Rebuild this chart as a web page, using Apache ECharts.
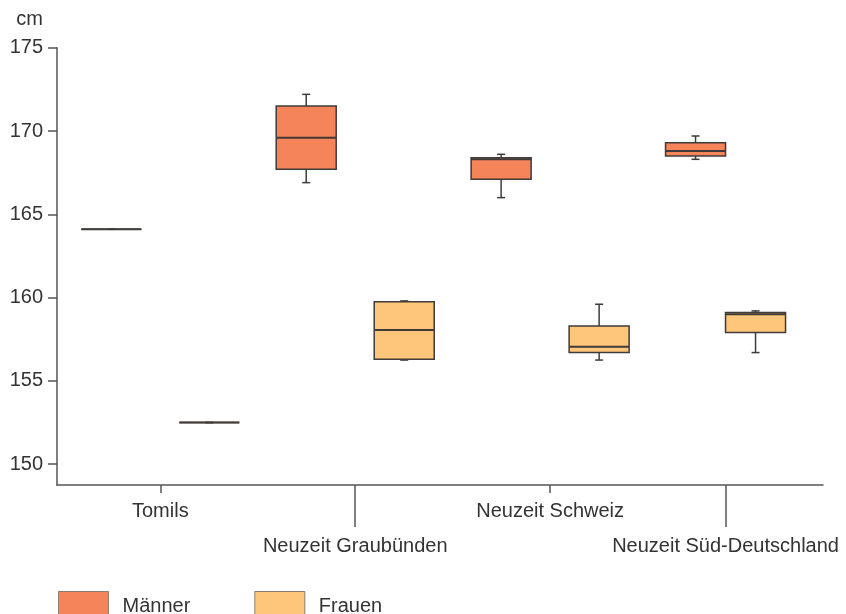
<!DOCTYPE html>
<html>
<head>
<meta charset="utf-8">
<script src="https://cdn.jsdelivr.net/npm/echarts@6/dist/echarts.min.js"></script>
<style>
  html, body { margin: 0; padding: 0; background: #ffffff; }
  #chart { width: 846px; height: 614px; }
</style>
</head>
<body>
<div id="chart"></div>
<script>
// Body height (cm) by group: five-number summaries [min, Q1, median, Q3, max]
const groups = ['Tomils', 'Neuzeit Graubünden', 'Neuzeit Schweiz', 'Neuzeit Süd-Deutschland'];
const maenner = [
  [164.1, 164.1, 164.1, 164.1, 164.1],
  [166.9, 167.7, 169.6, 171.5, 172.2],
  [166.0, 167.1, 168.3, 168.4, 168.6],
  [168.3, 168.5, 168.8, 169.3, 169.7]
];
const frauen = [
  [152.5, 152.5, 152.5, 152.5, 152.5],
  [156.25, 156.3, 158.05, 159.75, 159.8],
  [156.25, 156.7, 157.05, 158.3, 159.6],
  [156.7, 157.9, 159.0, 159.1, 159.2]
];
const yTicks = [150, 155, 160, 165, 170, 175];

// Layout: group centres on the x axis and pixel offset of each pair of boxes
const groupPos = [0, 1, 2, 2.9];
const pairOffset = [49, 49, 49, 30];
const boxWidth = 60;
const capWidth = 8;

const textColor = '#333333';
const axisColor = '#555555';
const edge = '#3f3b38';
const fontFamily = '"Liberation Sans", Arial, sans-serif';

function nameAt(v) {
  let best = 0;
  groupPos.forEach((p, i) => { if (Math.abs(p - v) < Math.abs(groupPos[best] - v)) best = i; });
  return groups[best];
}

function boxRenderer(side) {
  return function (params, api) {
    const i = params.dataIndex;
    const cx = api.coord([api.value(0), 0])[0] + side * pairOffset[i];
    const y = k => api.coord([0, api.value(k)])[1];
    const yMin = y(1), yQ1 = y(2), yMed = y(3), yQ3 = y(4), yMax = y(5);
    const half = boxWidth / 2, cap = capWidth / 2;
    const line = (x1, y1, x2, y2, w) => ({
      type: 'line', shape: { x1, y1, x2, y2 }, style: { stroke: edge, lineWidth: w }
    });
    return {
      type: 'group',
      children: [
        line(cx, yMax, cx, yQ3, 1.5),
        line(cx - cap, yMax, cx + cap, yMax, 1.5),
        line(cx, yQ1, cx, yMin, 1.5),
        line(cx - cap, yMin, cx + cap, yMin, 1.5),
        {
          type: 'rect',
          shape: { x: cx - half, y: yQ3, width: boxWidth, height: yQ1 - yQ3 },
          style: { fill: api.visual('color'), stroke: edge, lineWidth: 1.5 }
        },
        line(cx - half, yMed, cx + half, yMed, 2)
      ]
    };
  };
}

const chart = echarts.init(document.getElementById('chart'), null, { renderer: 'canvas' });

const labelStyle = { fontSize: 20, color: textColor, fontFamily: fontFamily };
const rowA = [groupPos[0], groupPos[2]];
const rowB = [groupPos[1], groupPos[3]];

chart.setOption({
  animation: false,
  backgroundColor: '#ffffff',
  textStyle: { fontFamily: fontFamily },
  grid: { left: 57, right: 23, top: 47.7, bottom: 129, containLabel: false },
  legend: {
    left: 58, top: 591, padding: 0,
    icon: 'rect', itemWidth: 50, itemHeight: 30, itemGap: 64,
    itemStyle: { borderColor: '#8c7c6c', borderWidth: 1 },
    textStyle: { fontSize: 20, color: textColor, fontFamily: fontFamily, padding: [0, 0, 0, 9] },
    data: ['Männer', 'Frauen']
  },
  xAxis: [
    {
      type: 'value', min: -0.53, max: 3.4, position: 'bottom',
      axisLine: { show: true, onZero: false, lineStyle: { color: axisColor, width: 1.5 } },
      splitLine: { show: false },
      axisTick: { show: true, customValues: rowA, length: 8, lineStyle: { color: axisColor, width: 1.5 } },
      axisLabel: Object.assign({ customValues: rowA, margin: 16, formatter: nameAt }, labelStyle)
    },
    {
      type: 'value', min: -0.53, max: 3.4, position: 'bottom',
      axisLine: { show: false, onZero: false },
      splitLine: { show: false },
      axisTick: { show: true, customValues: rowB, length: 42, lineStyle: { color: axisColor, width: 1.5 } },
      axisLabel: Object.assign({ customValues: rowB, margin: 51, formatter: nameAt }, labelStyle)
    }
  ],
  yAxis: {
    type: 'value', min: 148.75, max: 175,
    name: 'cm', nameLocation: 'end', nameGap: 18,
    nameTextStyle: { fontSize: 20, color: textColor, fontFamily: fontFamily, align: 'right', padding: [0, 14, 0, 0] },
    axisLine: { show: true, onZero: false, lineStyle: { color: axisColor, width: 1.5 } },
    splitLine: { show: false },
    axisTick: { show: true, customValues: yTicks, length: 9, lineStyle: { color: axisColor, width: 1.5 } },
    axisLabel: Object.assign({ customValues: yTicks, margin: 14 }, labelStyle)
  },
  series: [
    {
      name: 'Männer', type: 'custom', xAxisIndex: 0, yAxisIndex: 0,
      itemStyle: { color: '#F6845B' },
      encode: { x: 0, y: [1, 2, 3, 4, 5] },
      renderItem: boxRenderer(-1),
      data: maenner.map((s, i) => [groupPos[i]].concat(s))
    },
    {
      name: 'Frauen', type: 'custom', xAxisIndex: 0, yAxisIndex: 0,
      itemStyle: { color: '#FEC67A' },
      encode: { x: 0, y: [1, 2, 3, 4, 5] },
      renderItem: boxRenderer(1),
      data: frauen.map((s, i) => [groupPos[i]].concat(s))
    }
  ]
});
</script>
</body>
</html>
